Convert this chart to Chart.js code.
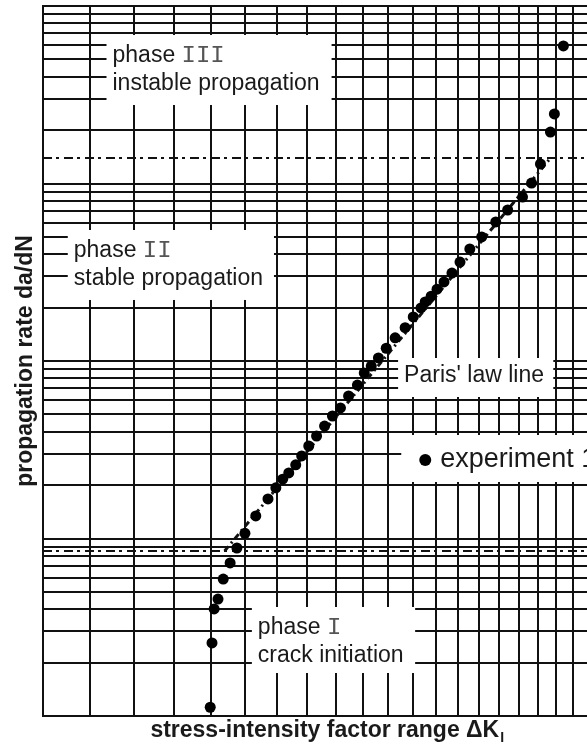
<!DOCTYPE html>
<html>
<head>
<meta charset="utf-8">
<script src="https://cdn.jsdelivr.net/npm/chart.js@4.4.1/dist/chart.umd.min.js"></script>
<style>
  html, body { margin: 0; padding: 0; background: #fff; overflow: hidden; }
  canvas { display: block; }
</style>
</head>
<body>
<canvas id="crackGrowth" width="612" height="744"></canvas>
<script>
// Crack growth curve, log-log: da/dN against stress-intensity factor range
// (plot runs a little past the right edge of the window, like the original)

// experiment 1
const deltaK = [13.99, 14.04, 14.10, 14.21, 14.36, 14.56, 14.76, 15.00, 15.33, 15.71,
                15.96, 16.18, 16.38, 16.61, 16.81, 17.05, 17.32, 17.60, 17.88, 18.17,
                18.47, 18.80, 19.06, 19.33, 19.61, 19.92, 20.28, 20.69, 21.03, 21.36,
                21.54, 21.80, 22.06, 22.37, 22.73, 23.10, 23.56, 24.13, 24.82, 25.42,
                26.19, 26.67, 27.15, 27.70, 27.92, 28.43];
const rate   = [1.12, 2.58, 4.01, 4.56, 5.91, 7.28, 8.84, 10.7, 13.4, 16.7,
                19.3, 21.6, 23.4, 26.0, 29.2, 33.2, 37.8, 43.0, 49.0, 54.4,
                63.5, 73.2, 85.6, 93.7, 104, 118, 135, 154, 177, 199,
                215, 232, 254, 279, 313, 361, 428, 500, 607, 709,
                839, 1006, 1288, 1950, 2464, 5953];

// Paris' law line (end points)
const parisK    = [14.4, 27.7];
const parisRate = [8.5, 1390];

// phase I/II and II/III boundaries
const phaseBounds = [8.5, 1390];

// axis ranges and grid lines
const kRange    = [10, 31];
const rateRange = [1, 10000];
const kGrid     = [10, 11, 12, 13, 14, 15, 16, 17, 18, 19, 20, 21, 22, 23, 24, 25,
                   26, 27, 28, 29, 30, 31];
const rateGrid  = [1, 2, 3, 4, 5, 6, 7, 8, 9,
                   10, 20, 30, 40, 50, 60, 70, 80, 90,
                   100, 200, 300, 400, 500, 600, 700, 800, 900,
                   1000, 2000, 3000, 4000, 5000, 6000, 7000, 8000, 9000, 10000];

const SANS = "'Liberation Sans', Arial, Helvetica, sans-serif";
const MONO = "'Liberation Mono', 'Courier New', monospace";
const INK  = '#1a1a1a';

// white label boxes, placed in data units
const notes = [
  { k: [11.36, 17.85], r: [6866, 2769], lines: [['phase ', 'III'], ['instable propagation']] },
  { k: [10.51, 15.90], r: [547, 220.7], lines: [['phase ', 'II'], ['stable propagation']] },
  { k: [15.21, 21.11], r: [4.112, 1.747], lines: [['phase ', 'I'], ['crack initiation']] },
  { k: [20.40, 27.86], r: [103.97, 62.69], lines: [["Paris' law line"]], single: true },
];
const legendBox = { k: [20.53, 31], r: [38.29, 20.81], text: 'experiment 1' };

const labelsPlugin = {
  id: 'labels',
  beforeDatasetsDraw(chart) {
    const { ctx, scales: { x, y } } = chart;
    ctx.save();
    notes.forEach(n => {
      const left = x.getPixelForValue(n.k[0]), right = x.getPixelForValue(n.k[1]);
      const top = y.getPixelForValue(n.r[0]), bottom = y.getPixelForValue(n.r[1]);
      ctx.fillStyle = '#fff';
      ctx.fillRect(left, top, right - left, bottom - top);
      ctx.textBaseline = 'alphabetic';
      ctx.textAlign = 'left';
      n.lines.forEach((parts, i) => {
        const by = top + (n.single ? 24 : (i === 0 ? 27 : 55));
        let tx = left + 6;
        ctx.font = '23px ' + SANS;
        ctx.fillStyle = INK;
        ctx.fillText(parts[0], tx, by);
        if (parts[1]) {
          tx += ctx.measureText(parts[0]).width;
          ctx.font = '24px ' + MONO;
          ctx.fillStyle = '#555';
          ctx.fillText(parts[1], tx, by);
        }
      });
    });
    // legend-like box for the experiment
    const lb = legendBox;
    const l = x.getPixelForValue(lb.k[0]), r = x.getPixelForValue(lb.k[1]);
    const t = y.getPixelForValue(lb.r[0]), b = y.getPixelForValue(lb.r[1]);
    ctx.fillStyle = '#fff';
    ctx.fillRect(l, t, r - l + 4, b - t);
    ctx.fillStyle = '#000';
    ctx.beginPath();
    ctx.arc(l + 24, t + 25, 6, 0, Math.PI * 2);
    ctx.fill();
    ctx.font = '27px ' + SANS;
    ctx.fillStyle = INK;
    ctx.fillText(lb.text, l + 39, t + 32);
    ctx.restore();
  },
  afterDraw(chart) {
    const { ctx, chartArea: a } = chart;
    ctx.save();
    ctx.fillStyle = INK;
    // y title
    ctx.font = 'bold 23px ' + SANS;
    ctx.translate(32, (a.top + a.bottom) / 2);
    ctx.rotate(-Math.PI / 2);
    ctx.textAlign = 'center';
    ctx.textBaseline = 'alphabetic';
    ctx.fillText('propagation rate da/dN', 0, 0);
    ctx.setTransform(1, 0, 0, 1, 0, 0);
    // x title with subscript
    const main = 'stress-intensity factor range \u0394K';
    ctx.font = 'bold 23px ' + SANS;
    const w1 = ctx.measureText(main).width;
    ctx.font = 'bold 14px ' + SANS;
    const w2 = ctx.measureText('I').width;
    const sx = (a.left + a.right) / 2 - (w1 + w2) / 2 + 2;
    ctx.textAlign = 'left';
    ctx.font = 'bold 23px ' + SANS;
    ctx.fillText(main, sx, 737);
    ctx.font = 'bold 14px ' + SANS;
    ctx.fillText('I', sx + w1 + 1, 742);
    ctx.restore();
  }
};

const gridAxis = (range, ticks) => ({
  type: 'logarithmic',
  min: range[0],
  max: range[1],
  afterBuildTicks: scale => { scale.ticks = ticks.map(v => ({ value: v })); },
  ticks: { display: false },
  grid: { color: '#111', lineWidth: 2, drawTicks: false },
  border: { display: true, color: '#111', width: 2 },
  title: { display: false },
});

const dashDot = [9, 4, 3, 5];

new Chart(document.getElementById('crackGrowth'), {
  type: 'scatter',
  data: {
    datasets: [
      {
        label: 'experiment 1',
        data: deltaK.map((k, i) => ({ x: k, y: rate[i] })),
        pointRadius: 5.5,
        pointHoverRadius: 5.5,
        backgroundColor: '#000',
        borderWidth: 0,
      },
      {
        label: "Paris' law line",
        data: parisK.map((k, i) => ({ x: k, y: parisRate[i] })),
        showLine: true,
        borderColor: '#111',
        borderWidth: 3,
        borderDash: [6, 4, 2, 4],
        pointRadius: 0,
      },
      ...phaseBounds.map(v => ({
        label: 'phase boundary',
        data: kRange.map(k => ({ x: k, y: v })),
        showLine: true,
        borderColor: '#111',
        borderWidth: 2,
        borderDash: dashDot,
        pointRadius: 0,
      })),
    ],
  },
  options: {
    responsive: false,
    animation: false,
    layout: { padding: { left: 43, top: 6, right: 2, bottom: 28 } },
    scales: {
      x: gridAxis(kRange, kGrid),
      y: gridAxis(rateRange, rateGrid),
    },
    plugins: {
      legend: { display: false },
      tooltip: { enabled: false },
    },
  },
  plugins: [labelsPlugin],
});
</script>
</body>
</html>
